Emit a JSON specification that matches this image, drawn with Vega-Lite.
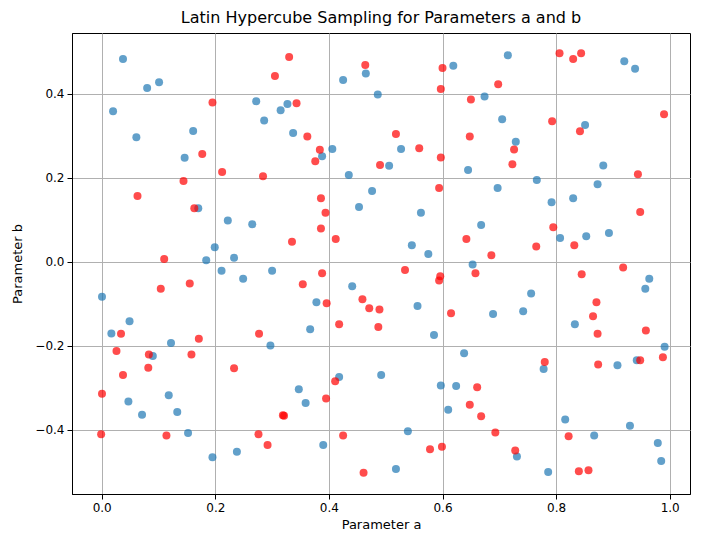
{
  "$schema": "https://vega.github.io/schema/vega-lite/v6.json",
  "width": 618,
  "height": 461,
  "autosize": {"type": "none"},
  "padding": {"left": 72, "top": 33, "right": 12, "bottom": 53},
  "background": "white",
  "config": {
    "font": "DejaVu Sans",
    "view": {"stroke": "black", "strokeWidth": 1},
    "axis": {
      "grid": true, "gridColor": "#b0b0b0", "gridWidth": 1, "gridOpacity": 1,
      "domainColor": "black", "tickColor": "black", "tickSize": 5,
      "labelFont": "DejaVu Sans", "labelFontSize": 12, "labelColor": "black",
      "titleFont": "DejaVu Sans", "titleFontSize": 13, "titleFontWeight": "normal", "titleColor": "black"
    }
  },
  "title": {"text": "Latin Hypercube Sampling for Parameters a and b", "font": "DejaVu Sans", "fontSize": 16, "fontWeight": "normal", "color": "black", "anchor": "middle", "offset": 7},
  "datasets": {
    "pts": [
      {"a":0.0375,"b":0.483,"s":"A"},{"a":0.080,"b":0.414,"s":"A"},{"a":0.101,"b":0.428,"s":"A"},{"a":0.020,"b":0.359,"s":"A"},{"a":0.272,"b":0.383,"s":"A"},
      {"a":0.315,"b":0.361,"s":"A"},{"a":0.286,"b":0.337,"s":"A"},{"a":0.161,"b":0.312,"s":"A"},{"a":0.061,"b":0.297,"s":"A"},{"a":0.146,"b":0.248,"s":"A"},
      {"a":0.465,"b":0.449,"s":"A"},{"a":0.425,"b":0.433,"s":"A"},{"a":0.619,"b":0.467,"s":"A"},{"a":0.486,"b":0.399,"s":"A"},{"a":0.674,"b":0.394,"s":"A"},
      {"a":0.327,"b":0.376,"s":"A"},{"a":0.337,"b":0.307,"s":"A"},{"a":0.406,"b":0.269,"s":"A"},{"a":0.388,"b":0.252,"s":"A"},{"a":0.527,"b":0.269,"s":"A"},
      {"a":0.506,"b":0.229,"s":"A"},{"a":0.645,"b":0.219,"s":"A"},{"a":0.435,"b":0.207,"s":"A"},{"a":0.476,"b":0.169,"s":"A"},
      {"a":0.715,"b":0.492,"s":"A"},{"a":0.920,"b":0.478,"s":"A"},{"a":0.939,"b":0.460,"s":"A"},{"a":0.705,"b":0.340,"s":"A"},{"a":0.851,"b":0.326,"s":"A"},
      {"a":0.729,"b":0.286,"s":"A"},{"a":0.883,"b":0.230,"s":"A"},{"a":0.766,"b":0.195,"s":"A"},{"a":0.697,"b":0.176,"s":"A"},{"a":0.873,"b":0.185,"s":"A"},
      {"a":0.792,"b":0.142,"s":"A"},{"a":0.830,"b":0.152,"s":"A"},{"a":0.668,"b":0.088,"s":"A"},{"a":0.807,"b":0.057,"s":"A"},{"a":0.853,"b":0.061,"s":"A"},
      {"a":0.893,"b":0.069,"s":"A"},{"a":0.964,"b":-0.040,"s":"A"},{"a":0.957,"b":-0.064,"s":"A"},{"a":0.756,"b":-0.075,"s":"A"},{"a":0.689,"b":-0.124,"s":"A"},
      {"a":0.742,"b":-0.117,"s":"A"},{"a":0.833,"b":-0.148,"s":"A"},{"a":0.991,"b":-0.202,"s":"A"},
      {"a":0.778,"b":-0.255,"s":"A"},{"a":0.908,"b":-0.246,"s":"A"},{"a":0.942,"b":-0.234,"s":"A"},{"a":0.731,"b":-0.463,"s":"A"},{"a":0.786,"b":-0.500,"s":"A"},
      {"a":0.816,"b":-0.375,"s":"A"},{"a":0.867,"b":-0.413,"s":"A"},{"a":0.930,"b":-0.390,"s":"A"},{"a":0.979,"b":-0.431,"s":"A"},{"a":0.985,"b":-0.474,"s":"A"},
      {"a":0.638,"b":-0.217,"s":"A"},{"a":0.418,"b":-0.274,"s":"A"},{"a":0.492,"b":-0.269,"s":"A"},{"a":0.347,"b":-0.303,"s":"A"},{"a":0.359,"b":-0.336,"s":"A"},
      {"a":0.597,"b":-0.294,"s":"A"},{"a":0.624,"b":-0.295,"s":"A"},{"a":0.610,"b":-0.352,"s":"A"},{"a":0.390,"b":-0.436,"s":"A"},{"a":0.539,"b":-0.403,"s":"A"},
      {"a":0.518,"b":-0.493,"s":"A"},
      {"a":0.122,"b":-0.193,"s":"A"},{"a":0.297,"b":-0.199,"s":"A"},{"a":0.090,"b":-0.224,"s":"A"},{"a":0.047,"b":-0.332,"s":"A"},{"a":0.118,"b":-0.317,"s":"A"},
      {"a":0.133,"b":-0.357,"s":"A"},{"a":0.071,"b":-0.364,"s":"A"},{"a":0.152,"b":-0.407,"s":"A"},{"a":0.195,"b":-0.465,"s":"A"},{"a":0.238,"b":-0.452,"s":"A"},
      {"a":0.170,"b":0.128,"s":"A"},{"a":0.222,"b":0.099,"s":"A"},{"a":0.265,"b":0.090,"s":"A"},{"a":0.199,"b":0.035,"s":"A"},{"a":0.184,"b":0.004,"s":"A"},
      {"a":0.233,"b":0.010,"s":"A"},{"a":0.211,"b":-0.021,"s":"A"},{"a":0.300,"b":-0.021,"s":"A"},{"a":0.249,"b":-0.040,"s":"A"},{"a":0.0005,"b":-0.083,"s":"A"},
      {"a":0.049,"b":-0.141,"s":"A"},{"a":0.017,"b":-0.170,"s":"A"},
      {"a":0.453,"b":0.131,"s":"A"},{"a":0.562,"b":0.117,"s":"A"},{"a":0.546,"b":0.040,"s":"A"},{"a":0.575,"b":0.019,"s":"A"},{"a":0.653,"b":-0.006,"s":"A"},
      {"a":0.441,"b":-0.058,"s":"A"},{"a":0.378,"b":-0.096,"s":"A"},{"a":0.556,"b":-0.105,"s":"A"},{"a":0.367,"b":-0.160,"s":"A"},{"a":0.585,"b":-0.174,"s":"A"},

      {"a":0.305,"b":0.443,"s":"B"},{"a":0.195,"b":0.380,"s":"B"},{"a":0.177,"b":0.257,"s":"B"},{"a":0.212,"b":0.214,"s":"B"},{"a":0.284,"b":0.204,"s":"B"},
      {"a":0.144,"b":0.193,"s":"B"},{"a":0.063,"b":0.157,"s":"B"},
      {"a":0.330,"b":0.488,"s":"B"},{"a":0.464,"b":0.469,"s":"B"},{"a":0.600,"b":0.462,"s":"B"},{"a":0.597,"b":0.412,"s":"B"},{"a":0.650,"b":0.387,"s":"B"},
      {"a":0.343,"b":0.378,"s":"B"},{"a":0.362,"b":0.299,"s":"B"},{"a":0.518,"b":0.305,"s":"B"},{"a":0.648,"b":0.299,"s":"B"},{"a":0.384,"b":0.267,"s":"B"},
      {"a":0.376,"b":0.240,"s":"B"},{"a":0.559,"b":0.271,"s":"B"},{"a":0.597,"b":0.249,"s":"B"},{"a":0.490,"b":0.231,"s":"B"},{"a":0.594,"b":0.176,"s":"B"},
      {"a":0.806,"b":0.497,"s":"B"},{"a":0.844,"b":0.497,"s":"B"},{"a":0.830,"b":0.483,"s":"B"},{"a":0.698,"b":0.423,"s":"B"},{"a":0.793,"b":0.335,"s":"B"},
      {"a":0.842,"b":0.311,"s":"B"},{"a":0.990,"b":0.352,"s":"B"},{"a":0.726,"b":0.268,"s":"B"},{"a":0.723,"b":0.233,"s":"B"},{"a":0.944,"b":0.209,"s":"B"},
      {"a":0.948,"b":0.119,"s":"B"},{"a":0.795,"b":0.083,"s":"B"},{"a":0.765,"b":0.037,"s":"B"},{"a":0.832,"b":0.040,"s":"B"},{"a":0.686,"b":0.016,"s":"B"},
      {"a":0.918,"b":-0.013,"s":"B"},{"a":0.845,"b":-0.029,"s":"B"},{"a":0.871,"b":-0.096,"s":"B"},{"a":0.865,"b":-0.129,"s":"B"},{"a":0.873,"b":-0.171,"s":"B"},
      {"a":0.958,"b":-0.163,"s":"B"},
      {"a":0.988,"b":-0.227,"s":"B"},{"a":0.780,"b":-0.238,"s":"B"},{"a":0.874,"b":-0.244,"s":"B"},{"a":0.948,"b":-0.234,"s":"B"},{"a":0.668,"b":-0.367,"s":"B"},
      {"a":0.693,"b":-0.406,"s":"B"},{"a":0.728,"b":-0.449,"s":"B"},{"a":0.822,"b":-0.415,"s":"B"},{"a":0.840,"b":-0.498,"s":"B"},{"a":0.857,"b":-0.496,"s":"B"},
      {"a":0.411,"b":-0.284,"s":"B"},{"a":0.395,"b":-0.325,"s":"B"},{"a":0.319,"b":-0.365,"s":"B"},{"a":0.321,"b":-0.366,"s":"B"},{"a":0.661,"b":-0.298,"s":"B"},
      {"a":0.648,"b":-0.340,"s":"B"},{"a":0.425,"b":-0.413,"s":"B"},{"a":0.578,"b":-0.446,"s":"B"},{"a":0.599,"b":-0.440,"s":"B"},{"a":0.461,"b":-0.502,"s":"B"},
      {"a":0.026,"b":-0.212,"s":"B"},{"a":0.083,"b":-0.220,"s":"B"},{"a":0.158,"b":-0.220,"s":"B"},{"a":0.082,"b":-0.252,"s":"B"},{"a":0.233,"b":-0.253,"s":"B"},
      {"a":0.0375,"b":-0.269,"s":"B"},{"a":0.0005,"b":-0.314,"s":"B"},{"a":-0.001,"b":-0.410,"s":"B"},{"a":0.114,"b":-0.413,"s":"B"},{"a":0.276,"b":-0.410,"s":"B"},
      {"a":0.292,"b":-0.436,"s":"B"},
      {"a":0.163,"b":0.128,"s":"B"},{"a":0.110,"b":0.007,"s":"B"},{"a":0.155,"b":-0.051,"s":"B"},{"a":0.104,"b":-0.064,"s":"B"},{"a":0.034,"b":-0.171,"s":"B"},
      {"a":0.277,"b":-0.171,"s":"B"},{"a":0.171,"b":-0.183,"s":"B"},
      {"a":0.386,"b":0.152,"s":"B"},{"a":0.394,"b":0.117,"s":"B"},{"a":0.386,"b":0.080,"s":"B"},{"a":0.412,"b":0.055,"s":"B"},{"a":0.335,"b":0.048,"s":"B"},
      {"a":0.642,"b":0.055,"s":"B"},{"a":0.658,"b":-0.027,"s":"B"},{"a":0.388,"b":-0.027,"s":"B"},{"a":0.534,"b":-0.019,"s":"B"},{"a":0.596,"b":-0.034,"s":"B"},
      {"a":0.594,"b":-0.044,"s":"B"},{"a":0.354,"b":-0.053,"s":"B"},{"a":0.396,"b":-0.098,"s":"B"},{"a":0.459,"b":-0.089,"s":"B"},{"a":0.471,"b":-0.110,"s":"B"},
      {"a":0.489,"b":-0.113,"s":"B"},{"a":0.615,"b":-0.122,"s":"B"},{"a":0.418,"b":-0.148,"s":"B"},{"a":0.487,"b":-0.155,"s":"B"}
    ]
  },
  "data": {"name": "pts"},
  "mark": {"type": "circle", "size": 64, "opacity": 0.7, "strokeWidth": 0},
  "encoding": {
    "x": {"field": "a", "type": "quantitative", "title": "Parameter a",
      "scale": {"domain": [-0.0523, 1.0357], "nice": false, "zero": false},
      "axis": {"values": [0, 0.2, 0.4, 0.6, 0.8, 1.0], "format": ".1f", "labelPadding": 3, "titlePadding": 5}},
    "y": {"field": "b", "type": "quantitative", "title": "Parameter b",
      "scale": {"domain": [-0.5524, 0.5452], "nice": false, "zero": false},
      "axis": {"values": [-0.4, -0.2, 0, 0.2, 0.4], "format": ".1f", "labelPadding": 3, "titlePadding": 10}},
    "color": {"field": "s", "type": "nominal", "legend": null,
      "scale": {"domain": ["A", "B"], "range": ["#1f77b4", "#ff0000"]}}
  }
}
